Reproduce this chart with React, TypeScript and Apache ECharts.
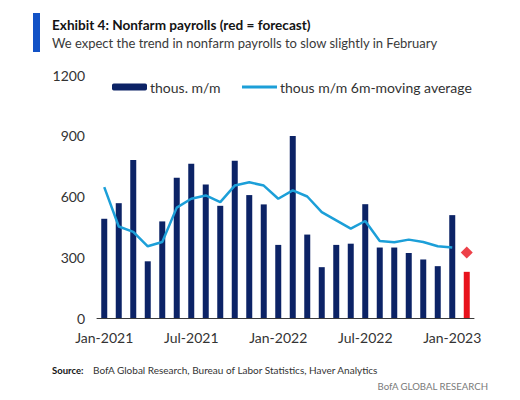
import React, { useEffect, useRef } from "react";
import * as echarts from "echarts";

const months: string[] = [
  "Jan-2021", "Feb-2021", "Mar-2021", "Apr-2021", "May-2021", "Jun-2021",
  "Jul-2021", "Aug-2021", "Sep-2021", "Oct-2021", "Nov-2021", "Dec-2021",
  "Jan-2022", "Feb-2022", "Mar-2022", "Apr-2022", "May-2022", "Jun-2022",
  "Jul-2022", "Aug-2022", "Sep-2022", "Oct-2022", "Nov-2022", "Dec-2022",
  "Jan-2023", "Feb-2023",
];

const payrolls: (number | null)[] = [
  490, 567, 780, 280, 477, 692, 762, 659, 554, 776, 607, 561,
  361, 899, 412, 251, 361, 367, 562, 348, 348, 321, 289, 256,
  508, null,
];

const forecastBar: (number | null)[] = [
  null, null, null, null, null, null, null, null, null, null, null, null,
  null, null, null, null, null, null, null, null, null, null, null, null,
  null, 228,
];

const movingAvg: (number | null)[] = [
  646, 452, 425, 354, 375, 545, 589, 605, 572, 654, 670, 654,
  589, 630, 600, 523, 482, 441, 479, 380, 374, 387, 375, 354,
  348, null,
];

const forecastAvg: (number | null)[] = [
  null, null, null, null, null, null, null, null, null, null, null, null,
  null, null, null, null, null, null, null, null, null, null, null, null,
  null, 323,
];

const yTicks = { min: 0, max: 1200, interval: 300 };

const FONT = "Lato, 'Noto Sans', sans-serif";

export default function App() {
  const ref = useRef<HTMLDivElement>(null);

  useEffect(() => {
    if (!ref.current) return;
    const chart = echarts.init(ref.current, undefined, { renderer: "svg" });
    chart.setOption({
      animation: false,
      backgroundColor: "#ffffff",
      textStyle: { fontFamily: FONT },
      grid: { left: 97, right: 46, top: 75, bottom: 82, containLabel: false },
      legend: {
        data: [
          { name: "thous. m/m" },
          {
            name: "thous m/m 6m-moving average",
            itemStyle: { color: "rgba(0,0,0,0)", borderWidth: 0, opacity: 0 },
            lineStyle: { width: 3, color: "#1c9fd8" },
          },
        ],
        left: 112,
        top: 80,
        padding: 0,
        itemWidth: 35,
        itemHeight: 7,
        itemGap: 20,
        textStyle: { fontFamily: FONT, fontSize: 14, color: "#333333", padding: [0, 0, 0, -2] },
      },
      xAxis: {
        type: "category",
        data: months,
        axisLine: { show: true, lineStyle: { color: "#3a3a3a", width: 1 } },
        axisTick: { show: false },
        axisLabel: {
          interval: 5,
          margin: 12,
          fontSize: 14,
          color: "#333333",
          fontFamily: FONT,
        },
        splitLine: { show: false },
      },
      yAxis: {
        type: "value",
        min: yTicks.min,
        max: yTicks.max,
        interval: yTicks.interval,
        axisLine: { show: false },
        axisTick: { show: false },
        splitLine: { show: false },
        axisLabel: {
          margin: 12,
          fontSize: 14,
          color: "#333333",
          fontFamily: FONT,
          formatter: (v: number) => String(v),
        },
      },
      series: [
        {
          name: "thous. m/m",
          type: "bar",
          data: payrolls,
          barWidth: 6,
          itemStyle: { color: "#0c2366" },
        },
        {
          name: "forecast",
          type: "bar",
          data: forecastBar,
          barWidth: 6,
          barGap: "-100%",
          itemStyle: { color: "#e8121c" },
        },
        {
          name: "thous m/m 6m-moving average",
          type: "line",
          data: movingAvg,
          symbol: "none",
          showSymbol: false,
          lineStyle: { color: "#1c9fd8", width: 2.5 },
          itemStyle: { color: "#1c9fd8" },
          z: 3,
        },
        {
          name: "forecast avg",
          type: "scatter",
          data: forecastAvg,
          symbol: "diamond",
          symbolSize: [12, 12],
          itemStyle: { color: "#e8121c" },
          z: 4,
        },
      ],
      graphic: [
        { type: "rect", left: 33, top: 13, shape: { width: 7, height: 39 }, style: { fill: "#1252c6" } },
        {
          type: "text", x: 52, y: 25,
          style: { text: "Exhibit 4: Nonfarm payrolls (red = forecast)", font: `bold 13.6px ${FONT}`, fill: "#141414", verticalAlign: "middle" },
        },
        {
          type: "text", x: 52, y: 43,
          style: { text: "We expect the trend in nonfarm payrolls to slow slightly in February", font: `13px ${FONT}`, fill: "#3a3a3a", verticalAlign: "middle" },
        },
        {
          type: "text", x: 52, y: 370,
          style: { text: "Source:", font: `bold 9.5px ${FONT}`, fill: "#141414", verticalAlign: "middle" },
        },
        {
          type: "text", x: 93, y: 370,
          style: { text: "BofA Global Research, Bureau of Labor Statistics, Haver Analytics", font: `10px ${FONT}`, fill: "#333333", verticalAlign: "middle" },
        },
        {
          type: "text", x: 488, y: 386,
          style: { text: "BofA GLOBAL RESEARCH", font: `9.6px ${FONT}`, fill: "#7a7a7a", align: "right", verticalAlign: "middle" },
        },
      ],
    });
    return () => chart.dispose();
  }, []);

  return (
    <div
      ref={ref}
      style={{ position: "absolute", left: 0, top: 0, width: 520, height: 400, background: "#fff" }}
    />
  );
}
